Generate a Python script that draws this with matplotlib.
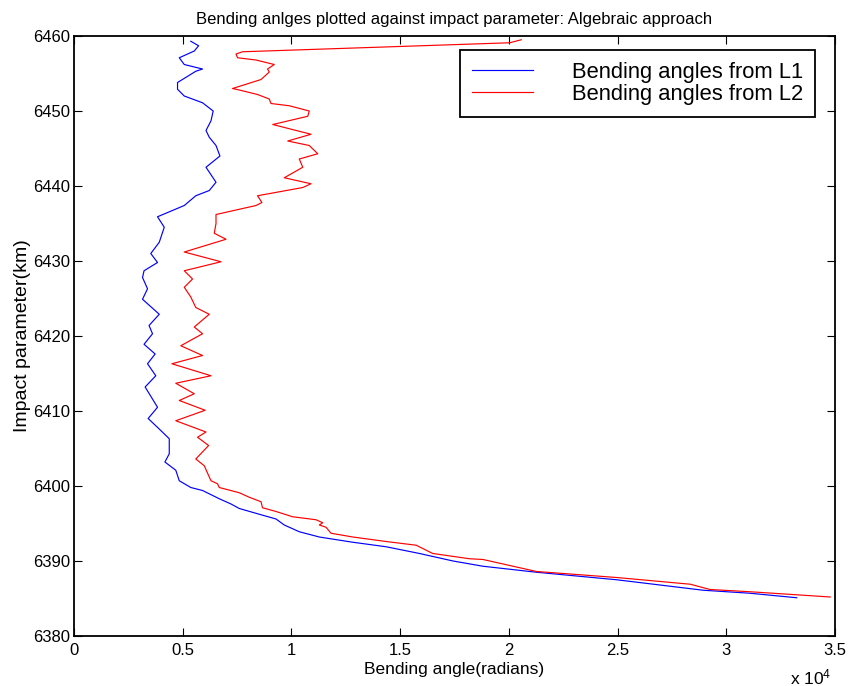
import matplotlib
matplotlib.use('Agg')
import matplotlib.pyplot as plt
import numpy as np

plt.rcParams['font.family'] = ['Liberation Sans', 'DejaVu Sans']
plt.rcParams['mathtext.fontset'] = 'custom'
plt.rcParams['mathtext.rm'] = 'Liberation Sans'
plt.rcParams['mathtext.default'] = 'regular'

# bending angles in units of 1e4 rad (as shown on the axis), impact parameter in km
l1_angle = [0.537, 0.573, 0.553, 0.484, 0.507, 0.591, 0.560, 0.476, 0.476, 0.507,
            0.591, 0.640, 0.630, 0.607, 0.622, 0.653, 0.671, 0.607, 0.653, 0.622,
            0.560, 0.507, 0.384, 0.415, 0.392, 0.353, 0.384, 0.322, 0.315, 0.338,
            0.315, 0.392, 0.345, 0.361, 0.322, 0.373, 0.338, 0.376, 0.327, 0.384,
            0.341, 0.399, 0.438, 0.438, 0.418, 0.468, 0.484, 0.537, 0.591, 0.668,
            0.722, 0.760, 0.844, 0.929, 0.967, 1.036, 1.128, 1.282, 1.435, 1.589,
            1.743, 1.881, 2.127, 2.495, 2.894, 3.109, 3.324]
l1_impact = [6459.3, 6458.7, 6458.0, 6457.1, 6456.2, 6455.6, 6455.3, 6453.8, 6452.9, 6452.0,
             6451.1, 6450.0, 6448.7, 6447.4, 6446.5, 6445.4, 6444.0, 6442.5, 6440.5, 6439.4,
             6438.7, 6437.4, 6435.9, 6434.5, 6432.5, 6431.0, 6429.8, 6428.7, 6427.8, 6426.3,
             6424.9, 6422.9, 6421.4, 6420.3, 6418.9, 6417.6, 6416.3, 6414.7, 6413.2, 6410.5,
             6409.0, 6407.4, 6406.3, 6404.3, 6403.2, 6402.1, 6400.7, 6399.8, 6399.4, 6398.3,
             6397.6, 6397.0, 6396.3, 6395.6, 6394.8, 6393.9, 6393.2, 6392.5, 6391.9, 6391.0,
             6390.0, 6389.3, 6388.5, 6387.5, 6386.1, 6385.7, 6385.1]

l2_angle = [2.057, 2.004, 0.775, 0.745, 0.752, 0.837, 0.921, 0.890, 0.898, 0.860,
            0.729, 0.760, 0.844, 0.898, 0.906, 0.990, 1.082, 1.075, 0.914, 1.090,
            0.983, 1.082, 1.121, 1.036, 1.052, 0.967, 1.090, 1.052, 0.844, 0.864,
            0.837, 0.653, 0.653, 0.645, 0.699, 0.507, 0.676, 0.507, 0.545, 0.507,
            0.537, 0.560, 0.622, 0.553, 0.591, 0.491, 0.591, 0.450, 0.630, 0.468,
            0.553, 0.484, 0.603, 0.468, 0.607, 0.568, 0.619, 0.560, 0.599, 0.622,
            0.630, 0.660, 0.668, 0.760, 0.806, 0.860, 0.867, 0.929, 1.005, 1.113,
            1.144, 1.128, 1.159, 1.182, 1.282, 1.435, 1.574, 1.650, 1.819, 1.881,
            2.004, 2.127, 2.495, 2.835, 2.925, 3.109, 3.478]
l2_impact = [6459.5, 6459.1, 6457.9, 6457.6, 6457.1, 6456.8, 6456.2, 6455.6, 6455.2, 6454.2,
             6453.0, 6452.8, 6452.2, 6451.6, 6451.0, 6450.7, 6450.0, 6449.3, 6448.2, 6446.9,
             6446.0, 6445.4, 6444.3, 6443.6, 6442.5, 6441.1, 6440.3, 6439.8, 6438.7, 6437.8,
             6437.4, 6436.2, 6435.0, 6433.7, 6432.9, 6431.2, 6429.9, 6428.7, 6427.6, 6426.5,
             6425.2, 6423.8, 6422.9, 6421.2, 6420.3, 6418.7, 6417.4, 6416.3, 6414.7, 6413.7,
             6412.3, 6411.4, 6410.1, 6408.7, 6407.2, 6406.5, 6405.4, 6403.6, 6402.7, 6401.2,
             6400.7, 6400.3, 6399.8, 6399.1, 6398.5, 6397.9, 6397.1, 6396.6, 6395.9, 6395.5,
             6395.1, 6394.8, 6394.5, 6393.7, 6393.2, 6392.6, 6392.1, 6391.0, 6390.3, 6390.2,
             6389.4, 6388.6, 6387.8, 6386.9, 6386.2, 6385.9, 6385.2]

x_ticks = [0, 0.5, 1, 1.5, 2, 2.5, 3, 3.5]
x_ticklabels = ['0', '0.5', '1', '1.5', '2', '2.5', '3', '3.5']
y_ticks = [6380, 6390, 6400, 6410, 6420, 6430, 6440, 6450, 6460]

fig = plt.figure(figsize=(8.49, 6.86), dpi=100)
ax = fig.add_axes([0.0872, 0.0729, 0.9835 - 0.0872, 0.9475 - 0.0729])

ax.plot(l1_angle, l1_impact, color='#0000ff', lw=0.85, label='Bending angles from L1')
ax.plot(l2_angle, l2_impact, color='#ff0000', lw=0.85, label='Bending angles from L2')

ax.set_xlim(0, 3.5)
ax.set_ylim(6380, 6460)
ax.set_xticks(x_ticks)
ax.set_xticklabels(x_ticklabels)
ax.set_yticks(y_ticks)
ax.tick_params(direction='in', length=6, width=0.8, top=True, right=True,
               labelsize=12)
ax.tick_params(axis='x', pad=5)
ax.tick_params(axis='y', pad=3)
for s in ax.spines.values():
    s.set_linewidth(1.3)

ax.set_title('Bending anlges plotted against impact parameter: Algebraic approach',
             fontsize=12, pad=9)
ax.set_xlabel('Bending angle(radians)', fontsize=12.5, labelpad=3)
ax.set_ylabel('Impact parameter(km)', fontsize=14, labelpad=1)
fig.text(790 / 849, 2 / 686, 'x 10$^4$', fontsize=12.5, va='baseline', ha='left')

leg = ax.legend(loc='upper right', bbox_to_anchor=(0.974, 0.977), borderaxespad=0,
                fontsize=15.8, handlelength=2.8, handletextpad=1.75,
                labelspacing=0.05, borderpad=0.55, fancybox=False, framealpha=1)
leg.get_frame().set_edgecolor('black')
leg.get_frame().set_linewidth(1.3)

fig.savefig('out.png', dpi=100)
